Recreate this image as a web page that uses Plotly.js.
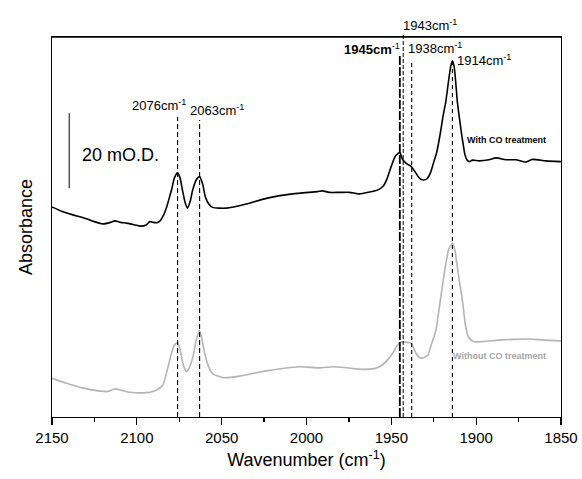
<!DOCTYPE html>
<html>
<head>
<meta charset="utf-8">
<script src="https://cdn.plot.ly/plotly-3.0.1.min.js"></script>
<style>
  html, body { margin: 0; padding: 0; background: #fff; }
  #chart { width: 582px; height: 479px; }
</style>
</head>
<body>
<div id="chart"></div>
<script>
// IR spectra of the sample, absorbance in mO.D. (offset for clarity)
const wnWithCO = [2150, 2144, 2137.6, 2132, 2127.6, 2120, 2115.5, 2112.9, 2109.5, 2105.9, 2101, 2098.2, 2094.5, 2092.4, 2090.5, 2088.2, 2086.3, 2084.7, 2082.4, 2080.6, 2079.4, 2077.9, 2076, 2074.5, 2073.1, 2071.5, 2070.2, 2068.5, 2067.1, 2065, 2063, 2061.2, 2059.6, 2057.6, 2055.3, 2047.2, 2035.5, 2023.7, 2008.2, 1993.5, 1990.6, 1986.5, 1980.6, 1974.7, 1968.8, 1962.9, 1958.2, 1954.7, 1952.4, 1950, 1947.6, 1945, 1943.5, 1941.2, 1938.5, 1935.9, 1933.5, 1931.2, 1928.8, 1926.8, 1925, 1923.3, 1921.3, 1919.6, 1917.9, 1916.3, 1915, 1914, 1913, 1912, 1911.1, 1909.8, 1908.5, 1907.4, 1906.6, 1905.3, 1903.8, 1902.2, 1898.2, 1892.4, 1888.4, 1882.5, 1876.6, 1870.8, 1866.9, 1859, 1850];
const absWithCO = [56.0, 54.8, 53.9, 53.2, 52.5, 51.5, 51.9, 52.3, 51.9, 51.7, 51.2, 50.9, 51.2, 52.1, 51.9, 51.8, 52.3, 53.4, 56.0, 58.9, 60.8, 63.7, 65.1, 63.7, 60.5, 57.1, 55.7, 57.6, 60.5, 63.2, 64.1, 62.1, 58.7, 56.8, 55.9, 55.7, 56.8, 58.3, 59.5, 60.1, 60.3, 59.9, 59.9, 59.9, 59.5, 60.0, 60.5, 61.6, 63.7, 66.9, 69.6, 70.5, 68.8, 67.6, 66.9, 65.3, 63.7, 63.2, 63.6, 65.3, 68.0, 70.5, 75.2, 80.0, 84.1, 89.5, 93.5, 95.0, 93.5, 89.0, 84.1, 79.5, 75.2, 72.0, 69.9, 68.5, 68.1, 68.5, 68.3, 68.6, 69.1, 68.6, 68.6, 68.0, 68.7, 68.3, 68.1];

const wnWithoutCO = [2150, 2141.4, 2131.6, 2121.8, 2117.1, 2112.9, 2108.8, 2104.1, 2094.3, 2090.6, 2087.5, 2084.7, 2081.6, 2079.4, 2077.9, 2076, 2075, 2073.7, 2072.4, 2070.8, 2069.1, 2066.9, 2065, 2063, 2061.8, 2060, 2057.6, 2055.1, 2049.2, 2039.4, 2023.7, 2004.1, 1992.4, 1984.5, 1977.6, 1966.9, 1960, 1956.1, 1952.9, 1949.2, 1947.1, 1945.3, 1942.9, 1940.6, 1938.4, 1937.1, 1935.5, 1933.5, 1931.6, 1928.6, 1926.5, 1923.7, 1922.2, 1920.8, 1919.4, 1917.8, 1916.1, 1914, 1912.7, 1911.4, 1910, 1908.4, 1907.4, 1906.5, 1904.6, 1901.6, 1896.3, 1886.5, 1877.6, 1868.8, 1860, 1850];
const absWithoutCO = [10.3, 9.0, 7.7, 6.9, 6.8, 7.5, 7.1, 6.6, 6.5, 6.8, 7.4, 8.5, 13.4, 17.3, 19.2, 19.8, 18.9, 16.1, 13.6, 12.1, 13.1, 16.1, 20.5, 23.0, 21.1, 17.0, 13.3, 11.5, 10.5, 10.9, 12.3, 13.4, 13.1, 13.4, 13.2, 12.7, 12.9, 13.6, 14.9, 17.0, 18.7, 19.7, 20.1, 19.9, 19.7, 18.7, 17.0, 15.9, 15.7, 16.4, 19.2, 23.2, 27.7, 32.1, 36.5, 41.0, 44.8, 46.3, 44.8, 41.0, 36.5, 32.1, 28.5, 25.0, 21.4, 20.1, 20.1, 20.5, 20.7, 20.8, 20.5, 20.3];

// Marked band positions (cm-1) and the height where each marker line starts
const peakPositions = [2076, 2063, 1945, 1943, 1938, 1914];
const peakLineTops = [80.0, 79.2, 96.3, 102.4, 95.2, 94.4];
const peakLabels = ['2076cm<sup>-1</sup>', '2063cm<sup>-1</sup>', '<b>1945cm</b><sup>-1</sup>', '1943cm<sup>-1</sup>', '1938cm<sup>-1</sup>', '1914cm<sup>-1</sup>'];

const xTickVals = [2150, 2100, 2050, 2000, 1950, 1900, 1850];
const seriesNames = ['With CO treatment', 'Without CO treatment'];

// Vertical scale bar: 20 mO.D.
const scaleBarValue = 20;
const scaleBarBase = 61;
const scaleBarWn = 2139.8;

const yMax = 101.33;
const font = 'Arial, "Liberation Sans", sans-serif';

const traces = [
  {
    x: wnWithCO, y: absWithCO, type: 'scatter', mode: 'lines',
    line: { color: '#000000', width: 1.6, shape: 'spline', smoothing: 0.6 },
    hoverinfo: 'skip'
  },
  {
    x: wnWithoutCO, y: absWithoutCO, type: 'scatter', mode: 'lines',
    line: { color: '#b4b4b4', width: 1.6, shape: 'spline', smoothing: 0.6 },
    hoverinfo: 'skip'
  },
  {
    x: [scaleBarWn, scaleBarWn], y: [scaleBarBase, scaleBarBase + scaleBarValue],
    type: 'scatter', mode: 'lines',
    line: { color: '#555555', width: 1.5 },
    hoverinfo: 'skip'
  }
];

// marker line styles, one per band
const lineStyles = [
  { dash: '5px,3px', width: 1.1 },
  { dash: '5px,3px', width: 1.1 },
  { dash: '9px,2px', width: 1.8 },
  { dash: '4px,2px', width: 1.0 },
  { dash: '4px,3px', width: 1.1 },
  { dash: '4px,4px', width: 1.1 }
];

const shapes = peakPositions.map((p, i) => ({
  type: 'line', xref: 'x', yref: 'paper',
  x0: p, x1: p, y0: 0, y1: peakLineTops[i] / yMax,
  line: { color: '#000000', width: lineStyles[i].width, dash: lineStyles[i].dash },
  layer: 'above'
}));

// top edge of the frame
shapes.push({
  type: 'line', xref: 'paper', yref: 'paper', x0: 0, x1: 1, y0: 1, y1: 1,
  line: { color: '#000000', width: 1.6 }
});

// label placement: left edge (cm-1) and vertical centre (mO.D.)
const labelPos = [
  [2103.0, 83.2], [2068.4, 81.9], [1977.7, 98.1], [1943.3, 104.5], [1940.0, 98.3], [1911.5, 95.2]
];

const annotations = peakLabels.map((t, i) => ({
  text: t, x: labelPos[i][0], y: labelPos[i][1] / yMax, xref: 'x', yref: 'paper',
  xanchor: 'left', yanchor: 'middle', showarrow: false,
  font: { family: font, size: 13, color: '#000' }, borderpad: 0, xshift: -1
}));

annotations.push(
  { text: '20 mO.D.', x: 2133.1, y: 69.9, xref: 'x', yref: 'y', xanchor: 'left', yanchor: 'middle',
    showarrow: false, font: { family: font, size: 18, color: '#000' }, borderpad: 0 },
  { text: '<b>' + seriesNames[0] + '</b>', x: 1906, y: 73.9, xref: 'x', yref: 'y', xanchor: 'left', yanchor: 'middle',
    showarrow: false, font: { family: font, size: 9, color: '#000' }, borderpad: 0 },
  { text: '<b>' + seriesNames[1] + '</b>', x: 1914.4, y: 16.3, xref: 'x', yref: 'y', xanchor: 'left', yanchor: 'middle',
    showarrow: false, font: { family: font, size: 9, color: '#a6a6a6' }, borderpad: 0 }
);

const layout = {
  width: 582, height: 479,
  margin: { l: 52, r: 21, t: 37, b: 62, pad: 0 },
  paper_bgcolor: '#ffffff', plot_bgcolor: '#ffffff',
  showlegend: false,
  font: { family: font, color: '#000' },
  xaxis: {
    range: [2150, 1850], tickvals: xTickVals, ticktext: xTickVals.map(String),
    ticks: 'outside', ticklen: 7, tickwidth: 1.2, tickcolor: '#000',
    minor: { dtick: 25, tick0: 2150, ticks: 'outside', ticklen: 4, tickwidth: 1.2, tickcolor: '#000' },
    showline: true, linecolor: '#000', linewidth: 1.4, mirror: true,
    showgrid: false, zeroline: false,
    tickfont: { family: font, size: 15, color: '#000' },
    title: { text: 'Wavenumber (cm<sup>-1</sup>)', font: { family: font, size: 18, color: '#000' }, standoff: 8 }
  },
  yaxis: {
    range: [0, yMax], showticklabels: false, ticks: '',
    showline: true, linecolor: '#000', linewidth: 1.4, mirror: true,
    showgrid: false, zeroline: false,
    title: { text: 'Absorbance', font: { family: font, size: 18, color: '#000' }, standoff: 13 }
  },
  shapes: shapes,
  annotations: annotations
};

Plotly.newPlot('chart', traces, layout, { staticPlot: true, displayModeBar: false });
</script>
</body>
</html>
